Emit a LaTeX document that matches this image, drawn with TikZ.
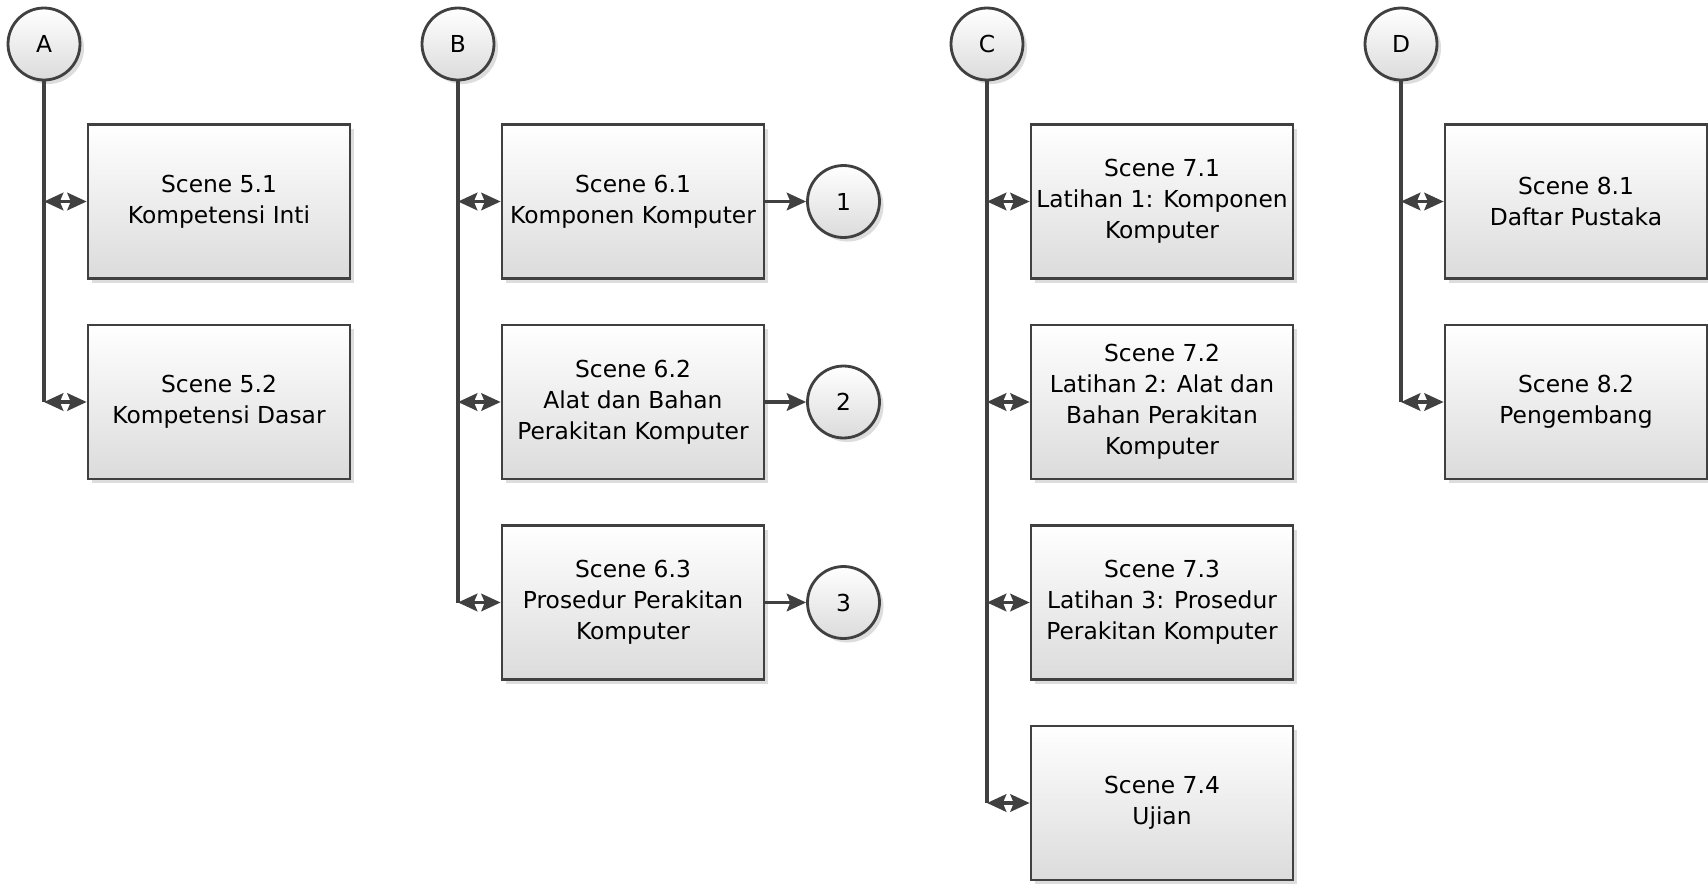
\documentclass[tikz,border=0pt]{standalone}
\usepackage{fontspec}
\setmainfont{DejaVu Sans}
\usetikzlibrary{arrows.meta,shadows}
\definecolor{linegray}{HTML}{404040}
\tikzset{
  scenebox/.style={draw=linegray, line width=1.6pt, top color=white, bottom color=gray!28,
    minimum width=5.24cm, minimum height=3.08cm, align=center, inner sep=2pt,
    font=\fontsize{13.3}{17.6}\selectfont,
    drop shadow={shadow xshift=2.3pt, shadow yshift=-2.3pt, fill=gray!45, opacity=0.6}},
  mark circle/.style={circle, draw=linegray, line width=1.6pt, top color=white, bottom color=gray!28,
    minimum size=1.44cm, inner sep=0pt, font=\fontsize{13.3}{17.6}\selectfont,
    drop shadow={shadow xshift=2.3pt, shadow yshift=-2.3pt, fill=gray!45, opacity=0.6}},
  link/.style={draw=linegray, line width=1.8pt},
  dbl/.style={link, {Stealth[length=11pt,width=10pt,inset=2pt]}-{Stealth[length=11pt,width=10pt,inset=2pt]}},
  fwd/.style={link, -{Stealth[length=11pt,width=10pt,inset=2pt]}}
}
\begin{document}
\begin{tikzpicture}[x=0.02cm, y=-0.02cm]
  \useasboundingbox (0,0) rectangle (1708,883);
  % section circles
  \node[mark circle] (A) at (44,44) {A};
  \node[mark circle] (B) at (458,44) {B};
  \node[mark circle] (C) at (987,44) {C};
  \node[mark circle] (D) at (1401,44) {D};
  % scenes 5
  \node[scenebox] (s51) at (219,201.5) {Scene 5.1\\Kompetensi Inti};
  \node[scenebox] (s52) at (219,402) {Scene 5.2\\Kompetensi Dasar};
  % scenes 6
  \node[scenebox] (s61) at (633,201.5) {Scene 6.1\\Komponen Komputer};
  \node[scenebox] (s62) at (633,402) {Scene 6.2\\Alat dan Bahan\\Perakitan Komputer};
  \node[scenebox] (s63) at (633,602.5) {Scene 6.3\\Prosedur Perakitan\\Komputer};
  \node[mark circle] (n1) at (843.5,201.5) {1};
  \node[mark circle] (n2) at (843.5,402) {2};
  \node[mark circle] (n3) at (843.5,602.5) {3};
  % scenes 7
  \node[scenebox] (s71) at (1162,201.5) {Scene 7.1\\Latihan 1: Komponen\\Komputer};
  \node[scenebox] (s72) at (1162,402) {Scene 7.2\\Latihan 2: Alat dan\\Bahan Perakitan\\Komputer};
  \node[scenebox] (s73) at (1162,602.5) {Scene 7.3\\Latihan 3: Prosedur\\Perakitan Komputer};
  \node[scenebox] (s74) at (1162,803) {Scene 7.4\\Ujian};
  % scenes 8
  \node[scenebox] (s81) at (1576,201.5) {Scene 8.1\\Daftar Pustaka};
  \node[scenebox] (s82) at (1576,402) {Scene 8.2\\Pengembang};
  % trunks
  \draw[link] (A) -- (A |- s52);
  \draw[link] (B) -- (B |- s63);
  \draw[link] (C) -- (C |- s74);
  \draw[link] (D) -- (D |- s82);
  % branches
  \draw[dbl] (A |- s51) -- (s51);
  \draw[dbl] (A |- s52) -- (s52);
  \draw[dbl] (B |- s61) -- (s61);
  \draw[dbl] (B |- s62) -- (s62);
  \draw[dbl] (B |- s63) -- (s63);
  \draw[dbl] (C |- s71) -- (s71);
  \draw[dbl] (C |- s72) -- (s72);
  \draw[dbl] (C |- s73) -- (s73);
  \draw[dbl] (C |- s74) -- (s74);
  \draw[dbl] (D |- s81) -- (s81);
  \draw[dbl] (D |- s82) -- (s82);
  \draw[fwd] (s61) -- (n1);
  \draw[fwd] (s62) -- (n2);
  \draw[fwd] (s63) -- (n3);
\end{tikzpicture}
\end{document}
